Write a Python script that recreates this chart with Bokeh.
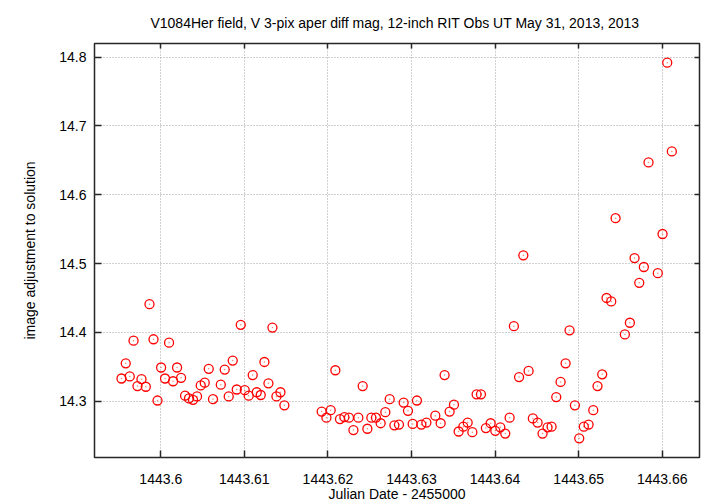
from bokeh.plotting import figure
from bokeh.models import Range1d, LinearAxis, FixedTicker, CustomJSTickFormatter
from bokeh.embed import file_html
from bokeh.resources import INLINE

# ---- data ----
jd = [
    1443.59530, 1443.59581, 1443.59629, 1443.59674, 1443.59721, 1443.59769, 1443.59821,
    1443.59865, 1443.59913, 1443.59961, 1443.60004, 1443.60051, 1443.60099, 1443.60147,
    1443.60195, 1443.60243, 1443.60291, 1443.60338, 1443.60386, 1443.60434, 1443.60478,
    1443.60526, 1443.60574, 1443.60625, 1443.60718, 1443.60765, 1443.60813, 1443.60861,
    1443.60909, 1443.60957, 1443.61005, 1443.61052, 1443.61100, 1443.61148, 1443.61196,
    1443.61240, 1443.61288, 1443.61336, 1443.61384, 1443.61432, 1443.61479,
    1443.61925, 1443.61982, 1443.62033, 1443.62089, 1443.62144, 1443.62197, 1443.62252,
    1443.62305, 1443.62364, 1443.62416, 1443.62472, 1443.62520, 1443.62575, 1443.62631,
    1443.62687, 1443.62739, 1443.62795, 1443.62850, 1443.62906, 1443.62958, 1443.63014,
    1443.63065, 1443.63118, 1443.63178, 1443.63285, 1443.63349, 1443.63396, 1443.63456,
    1443.63508, 1443.63564, 1443.63620, 1443.63672, 1443.63728, 1443.63779, 1443.63831,
    1443.63890, 1443.63947, 1443.64003, 1443.64063, 1443.64122, 1443.64174, 1443.64225,
    1443.64287, 1443.64338, 1443.64401, 1443.64452, 1443.64509, 1443.64568, 1443.64628,
    1443.64676, 1443.64732, 1443.64784, 1443.64844, 1443.64891, 1443.64955, 1443.65007,
    1443.65062, 1443.65119, 1443.65175, 1443.65226, 1443.65282, 1443.65334, 1443.65390,
    1443.65442, 1443.65553, 1443.65613, 1443.65669, 1443.65725, 1443.65780, 1443.65836,
    1443.65947, 1443.66004, 1443.66060, 1443.66115,
]
adj = [
    14.333, 14.355, 14.336, 14.388, 14.322, 14.332, 14.321,
    14.441, 14.390, 14.301, 14.349, 14.333, 14.385, 14.329,
    14.349, 14.334, 14.308, 14.304, 14.302, 14.307, 14.323,
    14.327, 14.347, 14.303, 14.324, 14.346, 14.307, 14.359,
    14.317, 14.411, 14.316, 14.308, 14.338, 14.313, 14.309,
    14.357, 14.326, 14.407, 14.307, 14.313, 14.294,
    14.285, 14.276, 14.287, 14.345, 14.274, 14.277, 14.276,
    14.258, 14.276, 14.322, 14.260, 14.276, 14.276, 14.268,
    14.284, 14.303, 14.265, 14.266, 14.298, 14.286, 14.267,
    14.301, 14.266, 14.269, 14.279, 14.268, 14.338, 14.285,
    14.295, 14.256, 14.263, 14.269, 14.255, 14.310, 14.310,
    14.261, 14.268, 14.257, 14.262, 14.253, 14.276, 14.409,
    14.335, 14.512, 14.344, 14.275, 14.269, 14.253, 14.262,
    14.263, 14.306, 14.328, 14.355, 14.403, 14.294, 14.246,
    14.263, 14.266, 14.287, 14.322, 14.339, 14.450, 14.445,
    14.566, 14.397, 14.414, 14.508, 14.472, 14.495, 14.647,
    14.486, 14.543, 14.792, 14.663,
]

x_ticks = [1443.60, 1443.61, 1443.62, 1443.63, 1443.64, 1443.65, 1443.66]
x_tick_labels = ["1443.6", "1443.61", "1443.62", "1443.63", "1443.64", "1443.65", "1443.66"]
y_ticks = [14.3, 14.4, 14.5, 14.6, 14.7, 14.8]
y_tick_labels = ["14.3", "14.4", "14.5", "14.6", "14.7", "14.8"]

title_text = "V1084Her field, V 3-pix aper diff mag,  12-inch RIT Obs UT May 31, 2013, 2013"
x_label = "Julian Date - 2455000"
y_label = "image adjustment to solution"

X0, X1 = 1443.59207, 1443.66446
Y0, Y1 = 14.2182, 14.8198

FONT = "Liberation Sans"
FRAME = "#262626"

p = figure(
    width=720, height=504,
    output_backend="svg", toolbar_location=None,
    x_range=Range1d(X0, X1),
    y_range=Range1d(Y0, Y1),
    min_border_left=94, min_border_right=21,
    min_border_top=42, min_border_bottom=45,
    x_axis_label=x_label, y_axis_label=y_label,
)
p.background_fill_color = "white"
p.border_fill_color = "white"
p.outline_line_color = FRAME
p.outline_line_width = 1.5

p.title.text = title_text
p.title.align = "center"
p.title.text_font = FONT
p.title.text_font_size = "14px"
p.title.text_font_style = "normal"
p.title.text_color = "black"
p.title.standoff = 25

for ax, ticks, labels in ((p.xaxis[0], x_ticks, x_tick_labels), (p.yaxis[0], y_ticks, y_tick_labels)):
    ax.ticker = FixedTicker(ticks=ticks)
    ax.major_label_overrides = {t: l for t, l in zip(ticks, labels)}
    ax.axis_line_color = None
    ax.major_tick_in = 7
    ax.major_tick_out = 0
    ax.major_tick_line_color = FRAME
    ax.major_tick_line_width = 1.5
    ax.minor_tick_line_color = None
    ax.major_label_text_font = FONT
    ax.major_label_text_font_size = "14px"
    ax.major_label_text_color = "black"
    ax.axis_label_text_font = FONT
    ax.axis_label_text_font_size = "14px"
    ax.axis_label_text_font_style = "normal"
    ax.axis_label_text_color = "black"

p.xaxis[0].major_label_standoff = 16
p.xaxis[0].axis_label_standoff = -1
p.yaxis[0].major_label_standoff = 8
p.yaxis[0].axis_label_standoff = 18

# mirrored ticks on top and right
right_ax = LinearAxis(ticker=FixedTicker(ticks=y_ticks), formatter=CustomJSTickFormatter(code="return ''"))
top_ax = LinearAxis(ticker=FixedTicker(ticks=x_ticks), formatter=CustomJSTickFormatter(code="return ''"))
for ax in (right_ax, top_ax):
    ax.axis_line_color = None
    ax.major_tick_in = 5
    ax.major_tick_out = 0
    ax.major_tick_line_color = FRAME
    ax.major_tick_line_width = 1.5
    ax.minor_tick_line_color = None
    ax.major_label_standoff = 0
    ax.major_label_text_font_size = "1px"
p.add_layout(right_ax, "right")
p.add_layout(top_ax, "above")

p.xgrid.ticker = FixedTicker(ticks=x_ticks)
p.ygrid.ticker = FixedTicker(ticks=y_ticks)
for g in (p.xgrid[0], p.ygrid[0]):
    g.grid_line_color = "#a0a0a0"
    g.grid_line_dash = "1 2"
    g.grid_line_width = 1

p.scatter(jd, adj, marker="circle", size=9, fill_color=None,
          line_color="#ff0000", line_width=1.3)
p.scatter(jd, adj, marker="circle", size=1.5, fill_color="#ff0000",
          line_color=None, alpha=0.5)

open("out.html", "w").write(file_html(p, INLINE))
